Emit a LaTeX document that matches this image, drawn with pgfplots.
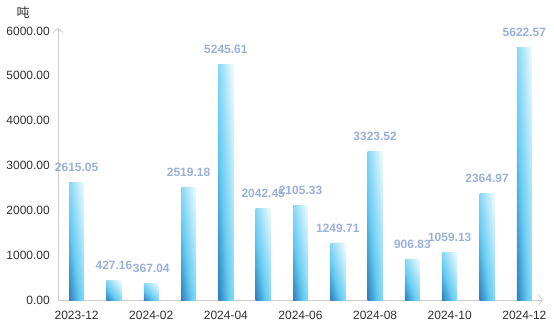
\documentclass[border=0pt]{standalone}
\usepackage{pgfplots}
\pgfplotsset{compat=1.18}
\usepackage{fontspec}
\setmainfont{Liberation Sans}
\newfontfamily\cjk{Noto Sans CJK SC}
\usetikzlibrary{arrows.meta}
\definecolor{axisgray}{HTML}{CCCCCC}
\definecolor{lblcol}{HTML}{9AB0DA}
\definecolor{txtcol}{HTML}{303030}
\pgfdeclarefunctionalshading{diagbar}{\pgfpoint{0bp}{0bp}}{\pgfpoint{100bp}{100bp}}{}{
  add 50 sub 100 div
  dup 0 lt {pop 0} if
  dup 1 gt {pop 1} if
  dup 0.35 lt {
    0.35 div
    dup 0.22 mul 0.18 add exch
    dup 0.30 mul 0.50 add exch
    0.21 mul 0.74 add
  } {
    0.35 sub 0.65 div
    dup 0.55 mul 0.40 add exch
    dup 0.19 mul 0.80 add exch
    0.05 mul 0.95 add
  } ifelse
}
\pgfplotsset{gbar/.style={draw=none, shading=diagbar}}
\begin{document}
\begin{tikzpicture}
\path[use as bounding box] (0pt,0pt) rectangle (554pt,-332pt);
\begin{axis}[
  at={(58pt,-300pt)}, anchor=south west,
  scale only axis,
  width=485pt, height=272pt,
  xmin=-0.5, xmax=12.5,
  ymin=0, ymax=6067,
  axis lines=left,
  axis line style={draw=axisgray, line width=0.8pt, -{Straight Barb[length=4pt,width=10pt,line width=0.8pt]}},
  major tick length=0pt,
  xtick={0,2,4,6,8,10,12},
  xticklabels={2023-12,2024-02,2024-04,2024-06,2024-08,2024-10,2024-12},
  ytick={0,1000,2000,3000,4000,5000,6000},
  /pgf/number format/assume math mode=true,
  yticklabel={\pgfmathprintnumber[fixed,fixed zerofill,precision=2,1000 sep={}]{\tick}},
  tick label style={font=\fontsize{12}{14}\selectfont, text=txtcol},
  yticklabel style={inner sep=0pt, xshift=-8pt},
  xticklabel style={inner sep=0pt, yshift=-10.5pt},
  ybar, bar width=15pt, bar shift=0pt,
  enlargelimits=false,
  nodes near coords,
  point meta=explicit symbolic,
  every node near coord/.append style={anchor=base, inner sep=0pt, yshift=11pt, font=\bfseries\fontsize{12}{14}\selectfont, text=lblcol},
  clip=false,
]
\addplot[gbar] coordinates {(0,2615.05) [2615.05]};
\addplot[gbar] coordinates {(1,427.16) [427.16]};
\addplot[gbar] coordinates {(2,367.04) [367.04]};
\addplot[gbar] coordinates {(3,2519.18) [2519.18]};
\addplot[gbar] coordinates {(4,5245.61) [5245.61]};
\addplot[gbar] coordinates {(5,2042.45) [2042.45]};
\addplot[gbar] coordinates {(6,2105.33) [2105.33]};
\addplot[gbar] coordinates {(7,1249.71) [1249.71]};
\addplot[gbar] coordinates {(8,3323.52) [3323.52]};
\addplot[gbar] coordinates {(9,906.83) [906.83]};
\addplot[gbar] coordinates {(10,1059.13) [1059.13]};
\addplot[gbar] coordinates {(11,2364.97) [2364.97]};
\addplot[gbar] coordinates {(12,5622.57) [5622.57]};
\end{axis}
\node[font=\cjk\fontsize{13}{15}\selectfont, text=txtcol] at (23pt,-13pt) {吨};
\end{tikzpicture}
\end{document}
